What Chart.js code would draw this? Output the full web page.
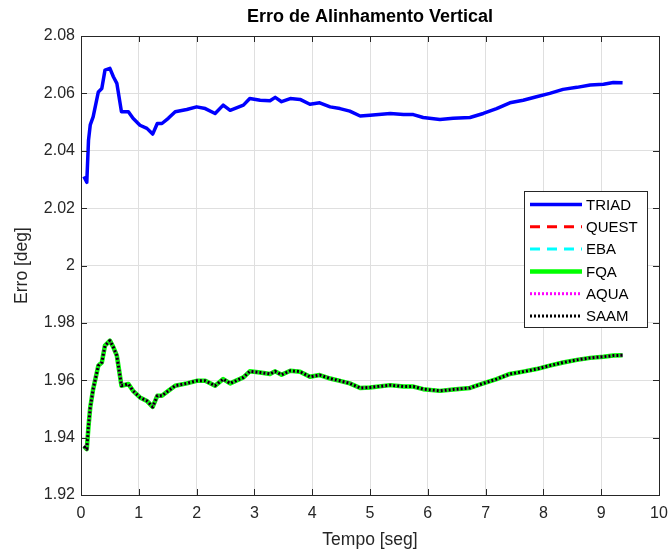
<!DOCTYPE html>
<html>
<head>
<meta charset="utf-8">
<title>Erro de Alinhamento Vertical</title>
<script src="https://cdn.jsdelivr.net/npm/chart.js@4.4.1/dist/chart.umd.min.js"></script>
<style>
  html, body { margin: 0; padding: 0; background: #fff; }
  #wrap { width: 671px; height: 552px; }
</style>
</head>
<body>
<div id="wrap"><canvas id="erro_chart" width="671" height="552"></canvas></div>
<script>
(function () {
  "use strict";

  // tempo [seg]
  var tempo = [0.05, 0.10, 0.13, 0.16, 0.21, 0.30, 0.36, 0.415, 0.50, 0.56, 0.62, 0.70, 0.82, 0.90,
    1.02, 1.14, 1.24, 1.32, 1.40, 1.51, 1.63, 1.83, 2.00, 2.15, 2.32, 2.46, 2.58, 2.81, 2.92,
    3.10, 3.27, 3.36, 3.47, 3.62, 3.79, 3.96, 4.13, 4.31, 4.48, 4.65, 4.83, 5.00, 5.35, 5.58,
    5.75, 5.92, 6.21, 6.44, 6.73, 6.96, 7.19, 7.42, 7.65, 7.88, 8.11, 8.34, 8.58, 8.81, 9.04,
    9.21, 9.37];

  var triadVals = [2.0310, 2.0290, 2.0437, 2.0490, 2.0518, 2.0605, 2.0617, 2.0681, 2.0687, 2.0658,
    2.0635, 2.0536, 2.0536, 2.0513, 2.0489, 2.0478, 2.0458, 2.0495, 2.0495, 2.0513, 2.0536,
    2.0544, 2.0553, 2.0547, 2.0530, 2.0559, 2.0541, 2.0559, 2.0582, 2.0576, 2.0574, 2.0586,
    2.0571, 2.0582, 2.0579, 2.0562, 2.0567, 2.0553, 2.0547, 2.0538, 2.0521, 2.0524, 2.0530,
    2.0526, 2.0526, 2.0516, 2.0509, 2.0513, 2.0516, 2.0530, 2.0547, 2.0567, 2.0576, 2.0588,
    2.0600, 2.0614, 2.0621, 2.0629, 2.0632, 2.0638, 2.0637];

  // QUEST, EBA, FQA, AQUA e SAAM ficam sobrepostos no gráfico
  var outrosVals = [1.9370, 1.9360, 1.9440, 1.9505, 1.9569, 1.9651, 1.9662, 1.9721, 1.9738, 1.9715,
    1.9686, 1.9581, 1.9587, 1.9563, 1.9540, 1.9528, 1.9507, 1.9546, 1.9546, 1.9563, 1.9581,
    1.9589, 1.9598, 1.9598, 1.9581, 1.9604, 1.9589, 1.9610, 1.9631, 1.9627, 1.9622, 1.9631,
    1.9619, 1.9633, 1.9630, 1.9612, 1.9618, 1.9606, 1.9598, 1.9589, 1.9573, 1.9575, 1.9583,
    1.9578, 1.9578, 1.9569, 1.9563, 1.9568, 1.9573, 1.9589, 1.9604, 1.9622, 1.9630, 1.9639,
    1.9651, 1.9662, 1.9671, 1.9678, 1.9682, 1.9686, 1.9687];

  var questVals = outrosVals;
  var ebaVals = outrosVals;
  var fqaVals = outrosVals;
  var aquaVals = outrosVals;
  var saamVals = outrosVals;

  var xTicks = [0, 1, 2, 3, 4, 5, 6, 7, 8, 9, 10];
  var yTicks = [1.92, 1.94, 1.96, 1.98, 2.00, 2.02, 2.04, 2.06, 2.08];

  var titulo = "Erro de Alinhamento Vertical";
  var FONT = "'Liberation Sans', Arial, Helvetica, sans-serif";
  var AXIS_COLOR = "#262626";

  function pts(vals) {
    return tempo.map(function (t, i) { return { x: t, y: vals[i] }; });
  }

  function serie(label, vals, color, width, dash, order) {
    return {
      label: label,
      data: pts(vals),
      borderColor: color,
      backgroundColor: color,
      borderWidth: width,
      borderDash: dash,
      borderCapStyle: "butt",
      borderJoinStyle: "round",
      pointRadius: 0,
      tension: 0,
      fill: false,
      order: order,
    };
  }

  // caixa, ticks para dentro e título no estilo MATLAB
  var matlabAxes = {
    id: "matlabAxes",
    afterDraw: function (chart) {
      var ctx = chart.ctx;
      var a = chart.chartArea;
      var xs = chart.scales.x;
      var ys = chart.scales.y;
      ctx.save();
      ctx.strokeStyle = AXIS_COLOR;
      ctx.lineWidth = 1;
      ctx.beginPath();
      xTicks.forEach(function (v) {
        var px = Math.round(xs.getPixelForValue(v)) + 0.5;
        ctx.moveTo(px, a.bottom); ctx.lineTo(px, a.bottom - 6);
        ctx.moveTo(px, a.top); ctx.lineTo(px, a.top + 6);
      });
      yTicks.forEach(function (v) {
        var py = Math.round(ys.getPixelForValue(v)) + 0.5;
        ctx.moveTo(a.left, py); ctx.lineTo(a.left + 6, py);
        ctx.moveTo(a.right, py); ctx.lineTo(a.right - 6, py);
      });
      ctx.stroke();
      ctx.strokeRect(Math.round(a.left) + 0.5, Math.round(a.top) + 0.5,
        Math.round(a.right - a.left), Math.round(a.bottom - a.top));

      ctx.fillStyle = "#000";
      ctx.font = "bold 18px " + FONT;
      ctx.textAlign = "center";
      ctx.textBaseline = "middle";
      ctx.fillText(titulo, (a.left + a.right) / 2, a.top - 19);
      ctx.restore();
    },
  };

  var matlabLegend = {
    id: "matlabLegend",
    afterDraw: function (chart) {
      var ctx = chart.ctx;
      var a = chart.chartArea;
      var sets = chart.data.datasets;
      var w = 123, h = 136;
      var x0 = a.right - 12 - w;
      var y0 = a.top + 155;
      ctx.save();
      ctx.fillStyle = "#fff";
      ctx.fillRect(x0, y0, w, h);
      ctx.strokeStyle = AXIS_COLOR;
      ctx.lineWidth = 1;
      ctx.strokeRect(Math.round(x0) + 0.5, Math.round(y0) + 0.5, w, h);
      ctx.font = "15px " + FONT;
      ctx.textBaseline = "middle";
      ctx.textAlign = "left";
      sets.forEach(function (ds, i) {
        var yy = y0 + 13.5 + i * 22.3;
        ctx.beginPath();
        ctx.setLineDash(ds.borderDash || []);
        ctx.lineCap = "butt";
        ctx.strokeStyle = ds.borderColor;
        ctx.lineWidth = ds.borderWidth;
        ctx.moveTo(x0 + 6, yy);
        ctx.lineTo(x0 + 58, yy);
        ctx.stroke();
        ctx.setLineDash([]);
        ctx.fillStyle = "#000";
        ctx.fillText(ds.label, x0 + 62, yy + 1);
      });
      ctx.restore();
    },
  };

  new Chart(document.getElementById("erro_chart"), {
    type: "line",
    data: {
      datasets: [
        serie("TRIAD", triadVals, "#0000ff", 3.5, [], 5),
        serie("QUEST", questVals, "#ff0000", 3, [10, 7], 4),
        serie("EBA", ebaVals, "#00ffff", 3, [10, 7], 3),
        serie("FQA", fqaVals, "#00ff00", 4.5, [], 2),
        serie("AQUA", aquaVals, "#ff00ff", 3, [2, 2], 1),
        serie("SAAM", saamVals, "#000000", 3, [2, 2], 0),
      ],
    },
    options: {
      responsive: false,
      animation: false,
      layout: { padding: { top: 36, right: 12, left: 0, bottom: 0 } },
      plugins: {
        legend: { display: false },
        title: { display: false },
        tooltip: { enabled: false },
      },
      scales: {
        x: {
          type: "linear",
          min: 0,
          max: 10,
          afterBuildTicks: function (scale) {
            scale.ticks = xTicks.map(function (v) { return { value: v }; });
          },
          afterFit: function (scale) {
            scale.height = 57;
            scale.paddingLeft = 0;
            scale.paddingRight = 0;
          },
          grid: { color: "#dfdfdf", drawTicks: false },
          border: { display: false },
          ticks: {
            color: AXIS_COLOR,
            font: { family: FONT, size: 16 },
            padding: 9,
            maxRotation: 0,
            autoSkip: false,
          },
          title: {
            display: true,
            text: "Tempo [seg]",
            color: AXIS_COLOR,
            font: { family: FONT, size: 17.5 },
            padding: { top: 0, bottom: 1 },
          },
        },
        y: {
          type: "linear",
          min: 1.92,
          max: 2.08,
          afterBuildTicks: function (scale) {
            scale.ticks = yTicks.map(function (v) { return { value: v }; });
          },
          afterFit: function (scale) {
            scale.width = 81;
            scale.paddingTop = 0;
            scale.paddingBottom = 0;
          },
          grid: { color: "#dfdfdf", drawTicks: false },
          border: { display: false },
          ticks: {
            color: AXIS_COLOR,
            font: { family: FONT, size: 16 },
            padding: 6,
            autoSkip: false,
            callback: function (v) { return String(Number(Number(v).toFixed(2))); },
          },
          title: {
            display: true,
            text: "Erro [deg]",
            color: AXIS_COLOR,
            font: { family: FONT, size: 17.5 },
            padding: { top: 12, bottom: 0 },
          },
        },
      },
    },
    plugins: [matlabAxes, matlabLegend],
  });
})();
</script>
</body>
</html>
